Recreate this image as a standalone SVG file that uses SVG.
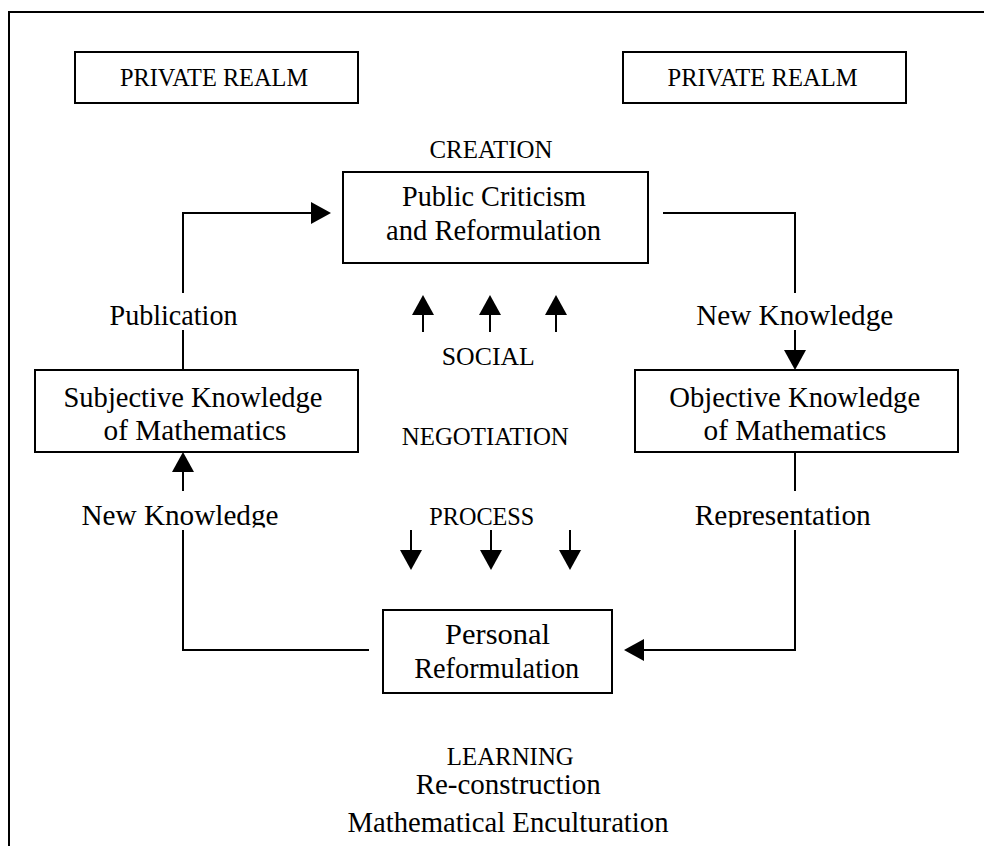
<svg xmlns="http://www.w3.org/2000/svg" width="984" height="846" viewBox="0 0 984 846">
<style>
.bx{fill:#fff;stroke:#000;stroke-width:2}
.ln{fill:none;stroke:#000;stroke-width:2}
text{font-family:"Liberation Serif","Times New Roman",serif;fill:#000;text-anchor:middle}
.cap{font-size:26px}
.lab{font-size:28.5px}
</style>
<defs>
<marker id="ah" viewBox="0 0 20 22" refX="0" refY="11" markerWidth="20" markerHeight="22" markerUnits="userSpaceOnUse" orient="auto">
<path d="M0,0 L20,11 L0,22 Z" fill="#000"/>
</marker>
<clipPath id="clipL"><rect x="0" y="490" width="984" height="37.5"/></clipPath>
</defs>
<rect width="984" height="846" fill="#fff"/>
<path id="frame" class="ln" d="M9,846 V12 H984"/>

<g id="connectors">
<path class="ln" d="M183,370 V330 M183,293 V213 H311" marker-end="url(#ah)"/>
<path class="ln" d="M663,213 H795 V293 M795,330 V350" marker-end="url(#ah)"/>
<path class="ln" d="M795,452 V491 M795,530 V650 H644" marker-end="url(#ah)"/>
<path class="ln" d="M369,650 H183 V530 M183,491 V472" marker-end="url(#ah)"/>
<path class="ln" d="M423,332 V315" marker-end="url(#ah)"/>
<path class="ln" d="M490,332 V315" marker-end="url(#ah)"/>
<path class="ln" d="M556,332 V315" marker-end="url(#ah)"/>
<path class="ln" d="M411,530 V550" marker-end="url(#ah)"/>
<path class="ln" d="M491,530 V550" marker-end="url(#ah)"/>
<path class="ln" d="M570,530 V550" marker-end="url(#ah)"/>
</g>

<g id="private-left">
<rect class="bx" x="75" y="52" width="283" height="51"/>
<text class="cap" x="214" y="86" textLength="188" lengthAdjust="spacingAndGlyphs">PRIVATE REALM</text>
</g>
<g id="private-right">
<rect class="bx" x="623" y="52" width="283" height="51"/>
<text class="cap" x="762.5" y="86" textLength="190" lengthAdjust="spacingAndGlyphs">PRIVATE REALM</text>
</g>

<g id="creation-label">
<text class="cap" x="491" y="158" textLength="123" lengthAdjust="spacingAndGlyphs">CREATION</text>
</g>

<g id="public-criticism">
<rect class="bx" x="343" y="172" width="305" height="91"/>
<text class="lab" x="494" y="206" textLength="184" lengthAdjust="spacingAndGlyphs">Public  Criticism</text>
<text class="lab" x="493.5" y="240" textLength="215" lengthAdjust="spacingAndGlyphs">and Reformulation</text>
</g>

<g id="publication-label">
<text class="lab" x="173.5" y="325" textLength="128" lengthAdjust="spacingAndGlyphs">Publication</text>
</g>
<g id="new-knowledge-right-label">
<text class="lab" x="794.7" y="325" textLength="197" lengthAdjust="spacingAndGlyphs">New Knowledge</text>
</g>

<g id="social-negotiation-process">
<text class="cap" x="488.3" y="365" textLength="93" lengthAdjust="spacingAndGlyphs">SOCIAL</text>
<text class="cap" x="485.3" y="445" textLength="167" lengthAdjust="spacingAndGlyphs">NEGOTIATION</text>
<text class="cap" x="481.8" y="525" textLength="105" lengthAdjust="spacingAndGlyphs">PROCESS</text>
</g>

<g id="subjective">
<rect class="bx" x="35" y="370" width="323" height="82"/>
<text class="lab" x="193" y="406.5" textLength="259" lengthAdjust="spacingAndGlyphs">Subjective  Knowledge</text>
<text class="lab" x="195" y="440" textLength="183" lengthAdjust="spacingAndGlyphs">of Mathematics</text>
</g>

<g id="objective">
<rect class="bx" x="635" y="370" width="323" height="82"/>
<text class="lab" x="794.7" y="406.5" textLength="251" lengthAdjust="spacingAndGlyphs">Objective Knowledge</text>
<text class="lab" x="795" y="440" textLength="183" lengthAdjust="spacingAndGlyphs">of Mathematics</text>
</g>

<g id="new-knowledge-left-label" clip-path="url(#clipL)">
<text class="lab" x="180" y="524.5" textLength="197" lengthAdjust="spacingAndGlyphs">New Knowledge</text>
</g>
<g id="representation-label" clip-path="url(#clipL)">
<text class="lab" x="782.8" y="525" textLength="176" lengthAdjust="spacingAndGlyphs">Representation</text>
</g>

<g id="personal-reformulation">
<rect class="bx" x="383" y="610" width="229" height="83"/>
<text class="lab" x="497.5" y="644" textLength="105" lengthAdjust="spacingAndGlyphs">Personal</text>
<text class="lab" x="496.7" y="678" textLength="165" lengthAdjust="spacingAndGlyphs">Reformulation</text>
</g>

<g id="learning-label">
<text class="cap" x="510.3" y="765" textLength="127" lengthAdjust="spacingAndGlyphs">LEARNING</text>
<text class="lab" x="508.2" y="793.5" textLength="185" lengthAdjust="spacingAndGlyphs">Re-construction</text>
<text class="lab" x="508" y="832" textLength="321" lengthAdjust="spacingAndGlyphs">Mathematical Enculturation</text>
</g>
</svg>
